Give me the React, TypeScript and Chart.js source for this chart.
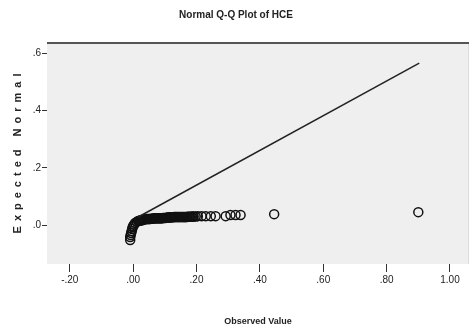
import React, { useEffect, useRef } from "react";
import { Chart, registerables } from "chart.js";

Chart.register(...registerables);

const TITLE = "Normal Q-Q Plot of HCE";
const X_TITLE = "Observed Value";
const Y_TITLE = "Expected Normal";

const X_TICKS = [-0.2, 0.0, 0.2, 0.4, 0.6, 0.8, 1.0];
const Y_TICKS = [0.0, 0.2, 0.4, 0.6];
const X_MIN = -0.272;
const X_MAX = 1.06;
const Y_MIN = -0.136;
const Y_MAX = 0.639;

const observed = [
  -0.0094, -0.0094, -0.0078, -0.0063, -0.0047, -0.0031, -0.0016, 0.0, 0.003, 0.0063, 0.011, 0.0157,
  0.019, 0.022, 0.025, 0.028, 0.031, 0.034, 0.037, 0.041, 0.044, 0.047, 0.05, 0.053, 0.056,
  0.06, 0.063, 0.066, 0.069, 0.072, 0.075, 0.078, 0.082, 0.085, 0.088, 0.091, 0.094, 0.097,
  0.1, 0.103, 0.107, 0.11, 0.113, 0.116, 0.119, 0.122, 0.125, 0.129, 0.132, 0.135, 0.138,
  0.141, 0.144, 0.147, 0.15, 0.154, 0.157, 0.16, 0.163, 0.166, 0.169, 0.172, 0.175, 0.179,
  0.182, 0.185, 0.188, 0.191, 0.197, 0.204, 0.216, 0.229, 0.245, 0.26, 0.292, 0.307, 0.323,
  0.339, 0.445, 0.9,
];
const expected = [
  -0.052, -0.042, -0.035, -0.028, -0.021, -0.014, -0.008, -0.003, 0.002, 0.007, 0.011, 0.014,
  0.015, 0.016, 0.017, 0.017, 0.019, 0.019, 0.02, 0.021, 0.021, 0.021, 0.021, 0.021, 0.022,
  0.022, 0.023, 0.024, 0.024, 0.024, 0.024, 0.024, 0.024, 0.024, 0.024, 0.024, 0.025, 0.025,
  0.025, 0.025, 0.026, 0.026, 0.026, 0.027, 0.027, 0.027, 0.027, 0.028, 0.028, 0.028, 0.028,
  0.028, 0.028, 0.028, 0.028, 0.028, 0.028, 0.028, 0.028, 0.028, 0.028, 0.029, 0.029, 0.029,
  0.029, 0.029, 0.03, 0.03, 0.03, 0.031, 0.031, 0.031, 0.031, 0.031, 0.031, 0.035, 0.035,
  0.035, 0.038, 0.045,
];

const lineX = [0.016, 0.903];
const lineY = [0.028, 0.565];

const fmtX = (v: number) => {
  const s = Math.abs(v).toFixed(2);
  const t = s.startsWith("0") ? s.slice(1) : s;
  return (v < 0 ? "-" : "") + t;
};
const fmtY = (v: number) => {
  const s = Math.abs(v).toFixed(1);
  const t = s.startsWith("0") ? s.slice(1) : s;
  return (v < 0 ? "-" : "") + t;
};

const framePlugin = {
  id: "frame",
  beforeDatasetsDraw(chart: any) {
    const { ctx, chartArea: a } = chart;
    ctx.save();
    ctx.fillStyle = "#efefef";
    ctx.fillRect(a.left, a.top, a.right - a.left, a.bottom - a.top);
    ctx.strokeStyle = "#dcdcdc";
    ctx.lineWidth = 1;
    ctx.beginPath();
    ctx.moveTo(a.right - 0.5, a.top);
    ctx.lineTo(a.right - 0.5, a.bottom);
    ctx.stroke();
    ctx.strokeStyle = "#555";
    ctx.lineWidth = 2;
    ctx.beginPath();
    ctx.moveTo(a.left, a.top + 1);
    ctx.lineTo(a.right, a.top + 1);
    ctx.stroke();
    ctx.restore();
  },
  afterDraw(chart: any) {
    const { ctx, chartArea: a } = chart;
    ctx.save();
    ctx.translate(18, (a.top + a.bottom) / 2);
    ctx.rotate(-Math.PI / 2);
    ctx.font = "bold 11px Arial, 'Liberation Sans', sans-serif";
    (ctx as any).letterSpacing = "5px";
    ctx.fillStyle = "#222";
    ctx.textAlign = "center";
    ctx.textBaseline = "middle";
    ctx.fillText(Y_TITLE, 2, 0);
    ctx.restore();
  },
};

export default function App() {
  const ref = useRef<HTMLCanvasElement>(null);
  useEffect(() => {
    document.body.style.margin = "0";
    document.body.style.background = "#fff";
    if (!ref.current) return;
    const pts = observed.map((x, i) => ({ x, y: expected[i] }));
    const line = lineX.map((x, i) => ({ x, y: lineY[i] }));
    const chart = new Chart(ref.current, {
      type: "scatter",
      data: {
        datasets: [
          {
            type: "line",
            data: line,
            borderColor: "#222",
            borderWidth: 1.5,
            pointRadius: 0,
            fill: false,
          } as any,
          {
            data: pts,
            pointRadius: 4.5,
            pointStyle: "circle",
            borderColor: "#111",
            borderWidth: 1.5,
            backgroundColor: "rgba(0,0,0,0)",
          },
        ],
      },
      options: {
        animation: false,
        responsive: true,
        maintainAspectRatio: false,
        layout: { padding: { left: 0, right: 3, top: 0, bottom: 0 } },
        plugins: {
          legend: { display: false },
          tooltip: { enabled: false },
          title: {
            display: true,
            text: TITLE,
            color: "#222",
            font: { size: 10, weight: "bold", family: "Arial, 'Liberation Sans', sans-serif", lineHeight: 1.2 },
            padding: { top: 9, bottom: 21 },
          },
        },
        scales: {
          x: {
            type: "linear",
            min: X_MIN,
            max: X_MAX,
            afterBuildTicks: (s: any) => {
              s.ticks = X_TICKS.map((v) => ({ value: v }));
            },
            afterFit: (s: any) => {
              s.height = 67;
            },
            border: { display: false },
            grid: { display: true, drawOnChartArea: false, drawTicks: true, tickLength: 8, color: "#333" },
            ticks: {
              color: "#222",
              padding: 2,
              maxRotation: 0,
              font: { size: 10, family: "Arial, 'Liberation Sans', sans-serif" },
              callback: (v: any) => fmtX(Number(v)),
            },
            title: {
              display: true,
              text: X_TITLE,
              color: "#222",
              font: { size: 9, weight: "bold", family: "Arial, 'Liberation Sans', sans-serif", lineHeight: 1.2 },
              padding: { top: 0, bottom: 4 },
            },
          },
          y: {
            type: "linear",
            min: Y_MIN,
            max: Y_MAX,
            afterBuildTicks: (s: any) => {
              s.ticks = Y_TICKS.map((v) => ({ value: v }));
            },
            afterFit: (s: any) => {
              s.width = 47;
            },
            border: { display: false },
            grid: { display: true, drawOnChartArea: false, drawTicks: true, tickLength: 5, color: "#333" },
            ticks: {
              color: "#222",
              padding: 1,
              font: { size: 10, family: "Arial, 'Liberation Sans', sans-serif" },
              callback: (v: any) => fmtY(Number(v)),
            },
          },
        },
      },
      plugins: [framePlugin],
    });
    return () => chart.destroy();
  }, []);
  return (
    <div style={{ width: 475, height: 331, position: "relative" }}>
      <canvas ref={ref} />
    </div>
  );
}
